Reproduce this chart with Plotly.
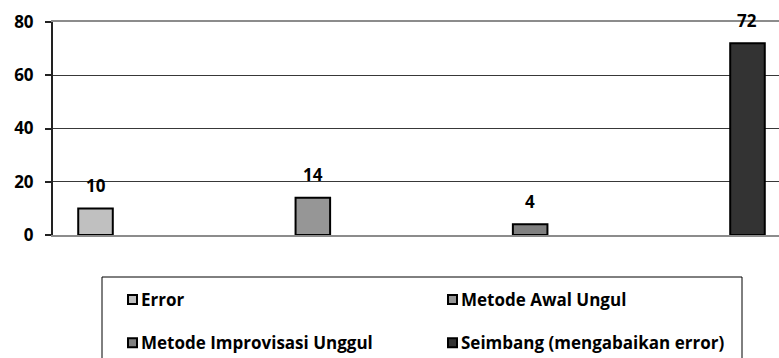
import plotly.graph_objects as go

# Series shown in the chart (one bar per series)
series_names = ["Error", "Metode Awal Ungul", "Metode Improvisasi Unggul", "Seimbang (mengabaikan error)"]
series_values = [10, 14, 4, 72]
series_colors = ["#c0c0c0", "#969696", "#808080", "#333333"]
y_ticks = [0, 20, 40, 60, 80]

FONT = "Open Sans, Lato, sans-serif"

# plot area in pixels
L, R, T, B = 53, 779, 22, 235
W_PX, H_PX = R - L, B - T


def px_x(p):
    return (p - L) / W_PX


def px_y(p):
    return (B - p) / H_PX


fig = go.Figure()
for name, val, col in zip(series_names, series_values, series_colors):
    fig.add_trace(go.Bar(
        x=[name], y=[val], name=name,
        marker=dict(color=col, line=dict(color="black", width=2)),
        width=0.159, showlegend=False,
    ))
    fig.add_annotation(
        x=name, y=val, text=str(val), showarrow=False,
        yshift=23, yanchor="middle", xanchor="center",
        font=dict(family=FONT, size=17, color="black", weight="bold"),
    )

fig.update_layout(
    width=779, height=358,
    margin=dict(l=L, r=779 - R, t=T, b=358 - B, autoexpand=False),
    paper_bgcolor="white", plot_bgcolor="white",
    barmode="overlay",
    showlegend=False,
    font=dict(family=FONT, color="black"),
    xaxis=dict(
        type="category", categoryorder="array", categoryarray=series_names,
        range=[-0.1956, 3.145], showticklabels=False, ticks="",
        showgrid=False, zeroline=False,
        showline=True, mirror=True, linecolor="#8c8c8c", linewidth=2,
    ),
    yaxis=dict(
        range=[0, 80], tickvals=y_ticks,
        tickfont=dict(family=FONT, size=17, color="black", weight="bold"),
        ticks="outside", ticklen=6, tickcolor="#222222", tickwidth=1.5,
        showline=True, linecolor="#222222", linewidth=2,
        showgrid=True, gridcolor="#383838", gridwidth=1,
        zeroline=False, ticklabelstandoff=8,
    ),
)

# legend: framed box with two rows of two entries
fig.add_shape(type="rect", xref="paper", yref="paper",
              x0=px_x(102), x1=px_x(742), y0=px_y(362), y1=px_y(277),
              line=dict(color="black", width=1), fillcolor="rgba(0,0,0,0)")

legend_cols = [127, 447]
legend_rows = [299.5, 342.7]
for i, (name, col) in enumerate(zip(series_names, series_colors)):
    cx = legend_cols[i % 2]
    cy = legend_rows[i // 2]
    fig.add_shape(type="rect", xref="paper", yref="paper",
                  x0=px_x(cx + 1), x1=px_x(cx + 10), y0=px_y(cy + 4.5), y1=px_y(cy - 4.5),
                  line=dict(color="black", width=2), fillcolor=col)
    fig.add_annotation(xref="paper", yref="paper", x=px_x(cx + 12), y=px_y(cy),
                       xanchor="left", yanchor="middle", showarrow=False, text=name,
                       font=dict(family=FONT, size=17, color="black", weight="bold"))

fig.write_html("out.html")
